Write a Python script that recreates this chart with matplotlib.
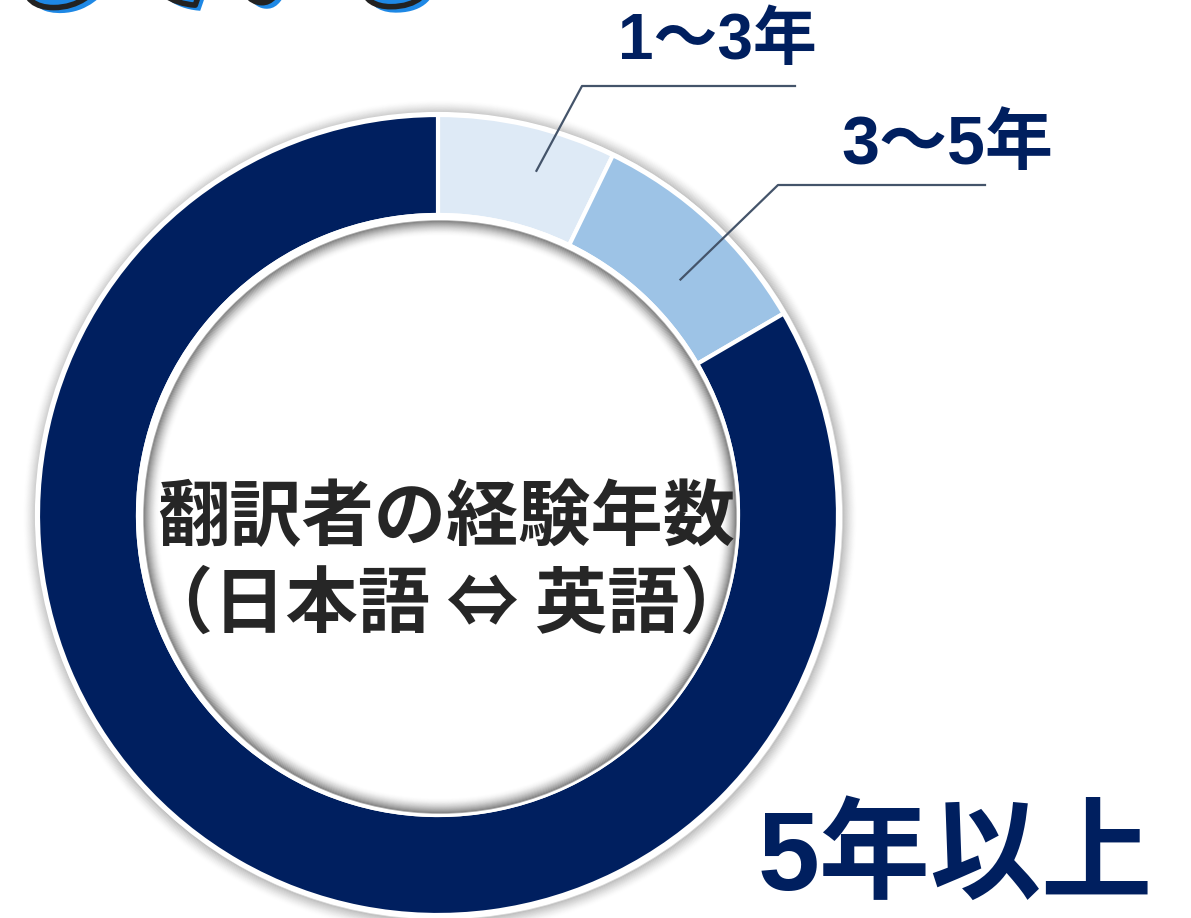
import numpy as np
import matplotlib
matplotlib.use("Agg")
import matplotlib.pyplot as plt
from matplotlib.patches import Circle
import matplotlib.patheffects as pe

plt.rcParams['font.family'] = ['Noto Sans CJK JP', 'DejaVu Sans']

# data
labels = ['1～3年', '3～5年', '5年以上']
shares = [7.2, 9.4, 83.4]
colors = ['#DEEAF6', '#9DC3E6', '#001F5F']
center_title = '翻訳者の経験年数\n（日本語 ⇔ 英語）'

W, H = 1191, 918
fig = plt.figure(figsize=(W / 100, H / 100), dpi=100)
ax = fig.add_axes([0, 0, 1, 1])

cx, cy = 438, H - 515
R, ring = 400, 100

# soft shadow outside the ring
for i in range(14):
    ax.add_patch(Circle((cx + 2, cy - 2), R + 3 + i, fill=False, lw=1.2,
                        ec='black', alpha=0.16 * (1 - i / 14) ** 1.5, zorder=1))

wedges, _ = ax.pie(shares, colors=colors, startangle=90, counterclock=False,
                   radius=R, center=(cx, cy),
                   wedgeprops=dict(width=ring, edgecolor='white', linewidth=3))
for w in wedges:
    w.set_zorder(2)
ax.add_patch(Circle((cx, cy), R + 1, fill=False, lw=3, ec='white', zorder=3))

# inner disc with a shaded rim
r_in = R - ring
ax.add_patch(Circle((cx, cy), r_in, fc='white', ec='white', lw=3, zorder=3))
for i in range(16):
    ax.add_patch(Circle((cx + 2, cy - 2), r_in - 4 - i, fill=False, lw=1.2,
                        ec='black', alpha=0.34 * (1 - i / 16) ** 2, zorder=4))

ax.text(cx + 8, H - 562, center_title, ha='center', va='center', fontsize=52,
        fontweight='bold', color='#262626', linespacing=1.22, zorder=6)

# leader lines and labels for the small slices
lab_pos = [(717, H - 42), (947, H - 146)]
lab_size = [46, 49]
elbows = [(582, H - 86), (778, H - 185)]
line_end = [795, 985]
start_r = [358, 338]
for w, (tx, ty), fs, (ex, ey), le, sr, lab in zip(wedges[:2], lab_pos, lab_size, elbows,
                                                   line_end, start_r, labels[:2]):
    th = np.deg2rad((w.theta1 + w.theta2) / 2 - 3)
    sx, sy = cx + sr * np.cos(th), cy + sr * np.sin(th)
    ax.plot([sx, ex, le], [sy, ey, ey], color='#44546A', lw=1.6, zorder=7)
    ax.text(tx, ty, lab, ha='center', va='center', fontsize=fs,
            fontweight='bold', color='#001F5F',
            family=['Liberation Sans', 'Noto Sans CJK JP'], zorder=7)

ax.text(955, H - 860, labels[2], ha='center', va='center', fontsize=80,
        fontweight='bold', color='#001F5F',
        family=['Liberation Sans', 'Noto Sans CJK JP'], zorder=7)

# clipped heading at the top edge
ax.text(6, H + 26, 'している', ha='left', va='center', fontsize=80,
        fontweight='bold', color='#1E88E5', zorder=8)
ax.text(0, H + 32, 'している', ha='left', va='center', fontsize=80,
        fontweight='bold', color='none', zorder=9,
        path_effects=[pe.withStroke(linewidth=4, foreground='#222222')])

ax.set_xlim(0, W)
ax.set_ylim(0, H)
ax.set_aspect('equal')
ax.axis('off')
fig.savefig('out.png', dpi=100, facecolor='white')
